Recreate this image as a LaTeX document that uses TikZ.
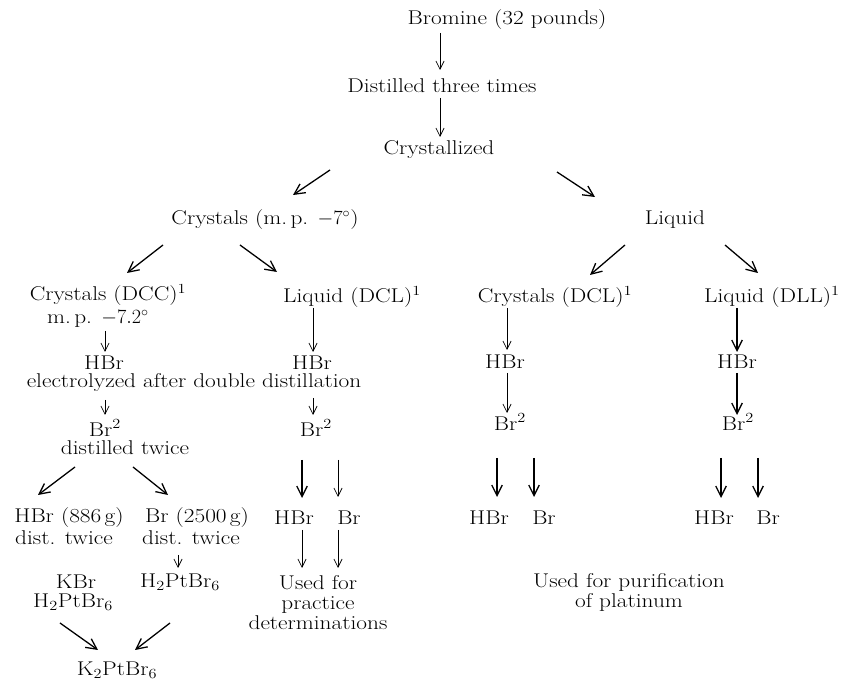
\documentclass[tikz,border=0pt]{standalone}
\usepackage{fontspec}
\setmainfont{Latin Modern Roman}[FakeStretch=1.17]
\usepackage{tikz}
\usetikzlibrary{arrows.meta,calc}

\begin{document}
\begin{tikzpicture}[x=0.03cm,y=-0.03cm,
lbl/.style={inner sep=0pt,font=\fontsize{17}{17}\selectfont},
arr/.style={line width=0.6pt,-{Straight Barb[length=7pt,width=7pt]}},
barr/.style={line width=1.1pt,-{Straight Barb[length=9pt,width=9pt]}}]
\useasboundingbox (0,0) rectangle (854,683);
% top
\node[lbl] (brom) at (507,20) {Bromine (32 pounds)};
\node[lbl] (dist) at (442,86) {Distilled three times};
\node[lbl] (cryst) at (439,150) {Crystallized};
\node[lbl] (crm) at (265,220) {Crystals (m.\,p. $-7^\circ$)};
\node[lbl] (liq) at (675,220) {Liquid};
% crystals
\node[lbl] (dcc) at (108,295) {Crystals (DCC)\textsuperscript{1}};
\node[lbl] (mp) at (98,319) {m.\,p. $-7.2^\circ$};
\node[lbl] (hbra) at (104,363) {HBr};
\node[lbl] (elec) at (194,383) {electrolyzed after double distillation};
\node[lbl] (bra) at (105,428) {Br\textsuperscript{2}};
\node[lbl] (dtw) at (125,448) {distilled twice};
\node[lbl] (hbrg) at (69,518) {HBr (886\,g)};
\node[lbl] (dta) at (64,538) {dist. twice};
\node[lbl] (brg) at (197,518) {Br (2500\,g)};
\node[lbl] (dtb) at (191,538) {dist. twice};
\node[lbl] (kbr) at (76,582) {KBr};
\node[lbl] (hpta) at (73,602) {H\textsubscript{2}PtBr\textsubscript{6}};
\node[lbl] (hptb) at (180,582) {H\textsubscript{2}PtBr\textsubscript{6}};
\node[lbl] (kpt) at (117,670) {K\textsubscript{2}PtBr\textsubscript{6}};
\node[lbl] (dcl) at (352,297) {Liquid (DCL)\textsuperscript{1}};
\node[lbl] (hbrb) at (312,363) {HBr};
\node[lbl] (brb) at (316,428) {Br\textsuperscript{2}};
\node[lbl] (hbrbb) at (294,518) {HBr};
\node[lbl] (brbb) at (349,518) {Br};
\node[lbl,align=center] (prac) at (318,603) {Used for\\practice\\determinations};
% liquid
\node[lbl] (cdcl) at (555,297) {Crystals (DCL)\textsuperscript{1}};
\node[lbl] (hbrc) at (505,362) {HBr};
\node[lbl] (brc) at (510,422) {Br\textsuperscript{2}};
\node[lbl] (hbrcc) at (489,518) {HBr};
\node[lbl] (brcc) at (544,518) {Br};
\node[lbl] (dll) at (772,297) {Liquid (DLL)\textsuperscript{1}};
\node[lbl] (hbrd) at (737,362) {HBr};
\node[lbl] (brd) at (738,422) {Br\textsuperscript{2}};
\node[lbl] (hbrdd) at (714,518) {HBr};
\node[lbl] (brdd) at (768,518) {Br};
\node[lbl,align=center] (plat) at (629,592) {Used for purification\\of platinum};

\draw[arr] ($(brom)+(-67,13)$) -- ($(dist)+(-2,-16)$);
\draw[arr] ($(dist)+(-2,12)$) -- ($(cryst)+(1,-13)$);
\draw[barr] ($(cryst)+(-109,20)$) -- ($(crm)+(28,-25)$);
\draw[barr] ($(cryst)+(118,22)$) -- ($(liq)+(-80,-23)$);
\draw[barr] ($(crm)+(-102,25)$) -- ($(dcc)+(19,-22)$);
\draw[barr] ($(crm)+(-25,25)$) -- ($(dcl)+(-75,-25)$);
\draw[barr] ($(liq)+(-50,25)$) -- ($(cdcl)+(35,-22)$);
\draw[barr] ($(liq)+(50,25)$) -- ($(dll)+(-14,-24)$);

\draw[arr] ($(mp)+(7,12)$) -- ($(hbra)+(1,-11)$);
\draw[arr] ($(elec)+(-89,17)$) -- ($(bra)+(0,-13)$);
\draw[barr] ($(dtw)+(-50,19)$) -- ($(hbrg)+(-31,-23)$);
\draw[barr] ($(dtw)+(8,19)$) -- ($(brg)+(-29,-23)$);
\draw[arr] ($(dtb)+(-13,17)$) -- ($(hptb)+(-2,-14)$);
\draw[barr] ($(hpta)+(-13,21)$) -- ($(kpt)+(-19,-20)$);
\draw[barr] ($(hptb)+(-10,41)$) -- ($(kpt)+(18,-20)$);

\draw[arr] ($(dcl)+(-39,11)$) -- ($(hbrb)+(1,-11)$);
\draw[arr] ($(elec)+(119,15)$) -- ($(brb)+(-3,-13)$);
\draw[barr] ($(brb)+(-14,32)$) -- ($(hbrbb)+(8,-20)$);
\draw[arr] ($(brb)+(22,32)$) -- ($(brbb)+(-11,-21)$);
\draw[arr] ($(hbrbb)+(8,12)$) -- ($(prac)+(-16,-35)$);
\draw[arr] ($(brbb)+(-11,12)$) -- ($(prac)+(20,-35)$);

\draw[arr] ($(cdcl)+(-48,11)$) -- ($(hbrc)+(2,-12)$);
\draw[arr] ($(hbrc)+(2,11)$) -- ($(brc)+(-3,-9)$);
\draw[barr] ($(brc)+(-13,36)$) -- ($(hbrcc)+(8,-21)$);
\draw[barr] ($(brc)+(24,36)$) -- ($(brcc)+(-10,-21)$);

\draw[barr] ($(dll)+(-35,11)$) -- ($(hbrd)+(0,-10)$);
\draw[barr] ($(hbrd)+(0,11)$) -- ($(brd)+(-1,-7)$);
\draw[barr] ($(brd)+(-17,36)$) -- ($(hbrdd)+(7,-20)$);
\draw[barr] ($(brd)+(20,36)$) -- ($(brdd)+(-10,-20)$);
\end{tikzpicture}
\end{document}
